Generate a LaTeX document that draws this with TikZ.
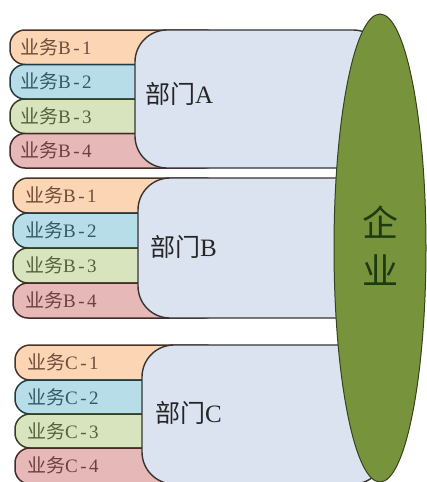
\documentclass[tikz,border=0pt]{standalone}
\usepackage{fontspec}
\setmainfont{Liberation Serif}
\newfontfamily\cjk{Noto Sans CJK SC}
\definecolor{orgF}{HTML}{FCD5B5}\definecolor{orgL}{HTML}{4A3426}\definecolor{orgT}{HTML}{6E4E38}
\definecolor{aquF}{HTML}{B7DEE8}\definecolor{aquL}{HTML}{203C44}\definecolor{aquT}{HTML}{335A66}
\definecolor{oliF}{HTML}{D7E4BD}\definecolor{oliL}{HTML}{363F22}\definecolor{oliT}{HTML}{55623A}
\definecolor{redF}{HTML}{E6B9B8}\definecolor{redL}{HTML}{462A28}\definecolor{redT}{HTML}{6E403E}
\definecolor{deptF}{HTML}{DCE3F0}\definecolor{deptL}{HTML}{353535}
\definecolor{entF}{HTML}{77933C}\definecolor{entL}{HTML}{34441C}\definecolor{entT}{HTML}{1E3A10}
\newcommand\bizlabel[2]{{\cjk 业务}#1\kern2.5pt-\kern2.5pt#2}
\newcommand\deptlabel[1]{{\cjk 部门}#1}
\tikzset{
  bizbox/.style={line width=1.5pt, rounded corners=15pt},
  biztext/.style={anchor=west, inner sep=0pt, font=\fontsize{19}{19}\selectfont},
  deptbox/.style={fill=deptF, draw=deptL, line width=1.4pt, rounded corners=32pt},
  depttext/.style={anchor=west, inner sep=0pt, text=black!85, font=\fontsize{25}{25}\selectfont},
  entbox/.style={fill=entF, draw=entL, line width=1pt},
  enttext/.style={inner sep=0pt, text=entT, font=\cjk\fontsize{36}{36}\selectfont},
}
\begin{document}
\begin{tikzpicture}[x=1pt,y=-1pt]
\useasboundingbox (0,0) rectangle (427,482);
\clip (0,0) rectangle (427,482);
% ---- group A items
\draw[bizbox, fill=orgF, draw=orgL] (10,30) rectangle (220,64.5);
\draw[bizbox, fill=aquF, draw=aquL] (10,64.5) rectangle (220,99);
\draw[bizbox, fill=oliF, draw=oliL] (10,99) rectangle (220,133.5);
\draw[bizbox, fill=redF, draw=redL] (10,133.5) rectangle (220,168);
% ---- group B items
\draw[bizbox, fill=orgF, draw=orgL] (13,178) rectangle (220,213);
\draw[bizbox, fill=aquF, draw=aquL] (13,213) rectangle (220,248);
\draw[bizbox, fill=oliF, draw=oliL] (13,248) rectangle (220,283);
\draw[bizbox, fill=redF, draw=redL] (13,283) rectangle (220,318);
% ---- group C items
\draw[bizbox, fill=orgF, draw=orgL] (15,345) rectangle (220,380);
\draw[bizbox, fill=aquF, draw=aquL] (15,380) rectangle (220,414);
\draw[bizbox, fill=oliF, draw=oliL] (15,414) rectangle (220,448);
\draw[bizbox, fill=redF, draw=redL] (15,448) rectangle (220,484);
% ---- departments
\draw[deptbox] (135,30) rectangle (385,168);
\draw[deptbox] (138,178) rectangle (385,318);
\draw[deptbox] (142,345) rectangle (385,484);
% ---- enterprise
\draw[entbox] (380,248) ellipse [x radius=46pt, y radius=234pt];
% ---- texts
\node[biztext, text=orgT] (a1) at (20,47.2) {\bizlabel{B}{1}};
\node[biztext, text=aquT] (a2) at (20,81.7) {\bizlabel{B}{2}};
\node[biztext, text=oliT] (a3) at (20,116.2) {\bizlabel{B}{3}};
\node[biztext, text=redT] (a4) at (20,150.7) {\bizlabel{B}{4}};
\node[biztext, text=orgT] (b1) at (25,195.5) {\bizlabel{B}{1}};
\node[biztext, text=aquT] (b2) at (25,230.5) {\bizlabel{B}{2}};
\node[biztext, text=oliT] (b3) at (25,265.5) {\bizlabel{B}{3}};
\node[biztext, text=redT] (b4) at (25,300.5) {\bizlabel{B}{4}};
\node[biztext, text=orgT] (c1) at (27,362.5) {\bizlabel{C}{1}};
\node[biztext, text=aquT] (c2) at (27,397) {\bizlabel{C}{2}};
\node[biztext, text=oliT] (c3) at (27,431) {\bizlabel{C}{3}};
\node[biztext, text=redT] (c4) at (27,465) {\bizlabel{C}{4}};
\node[depttext] (da) at (145,94) {\deptlabel{A}};
\node[depttext] (db) at (150,247) {\deptlabel{B}};
\node[depttext] (dc) at (155,413) {\deptlabel{C}};
\node[enttext] (qi) at (380,222) {企};
\node[enttext] (ye) at (380,270) {业};
\end{tikzpicture}
\end{document}
